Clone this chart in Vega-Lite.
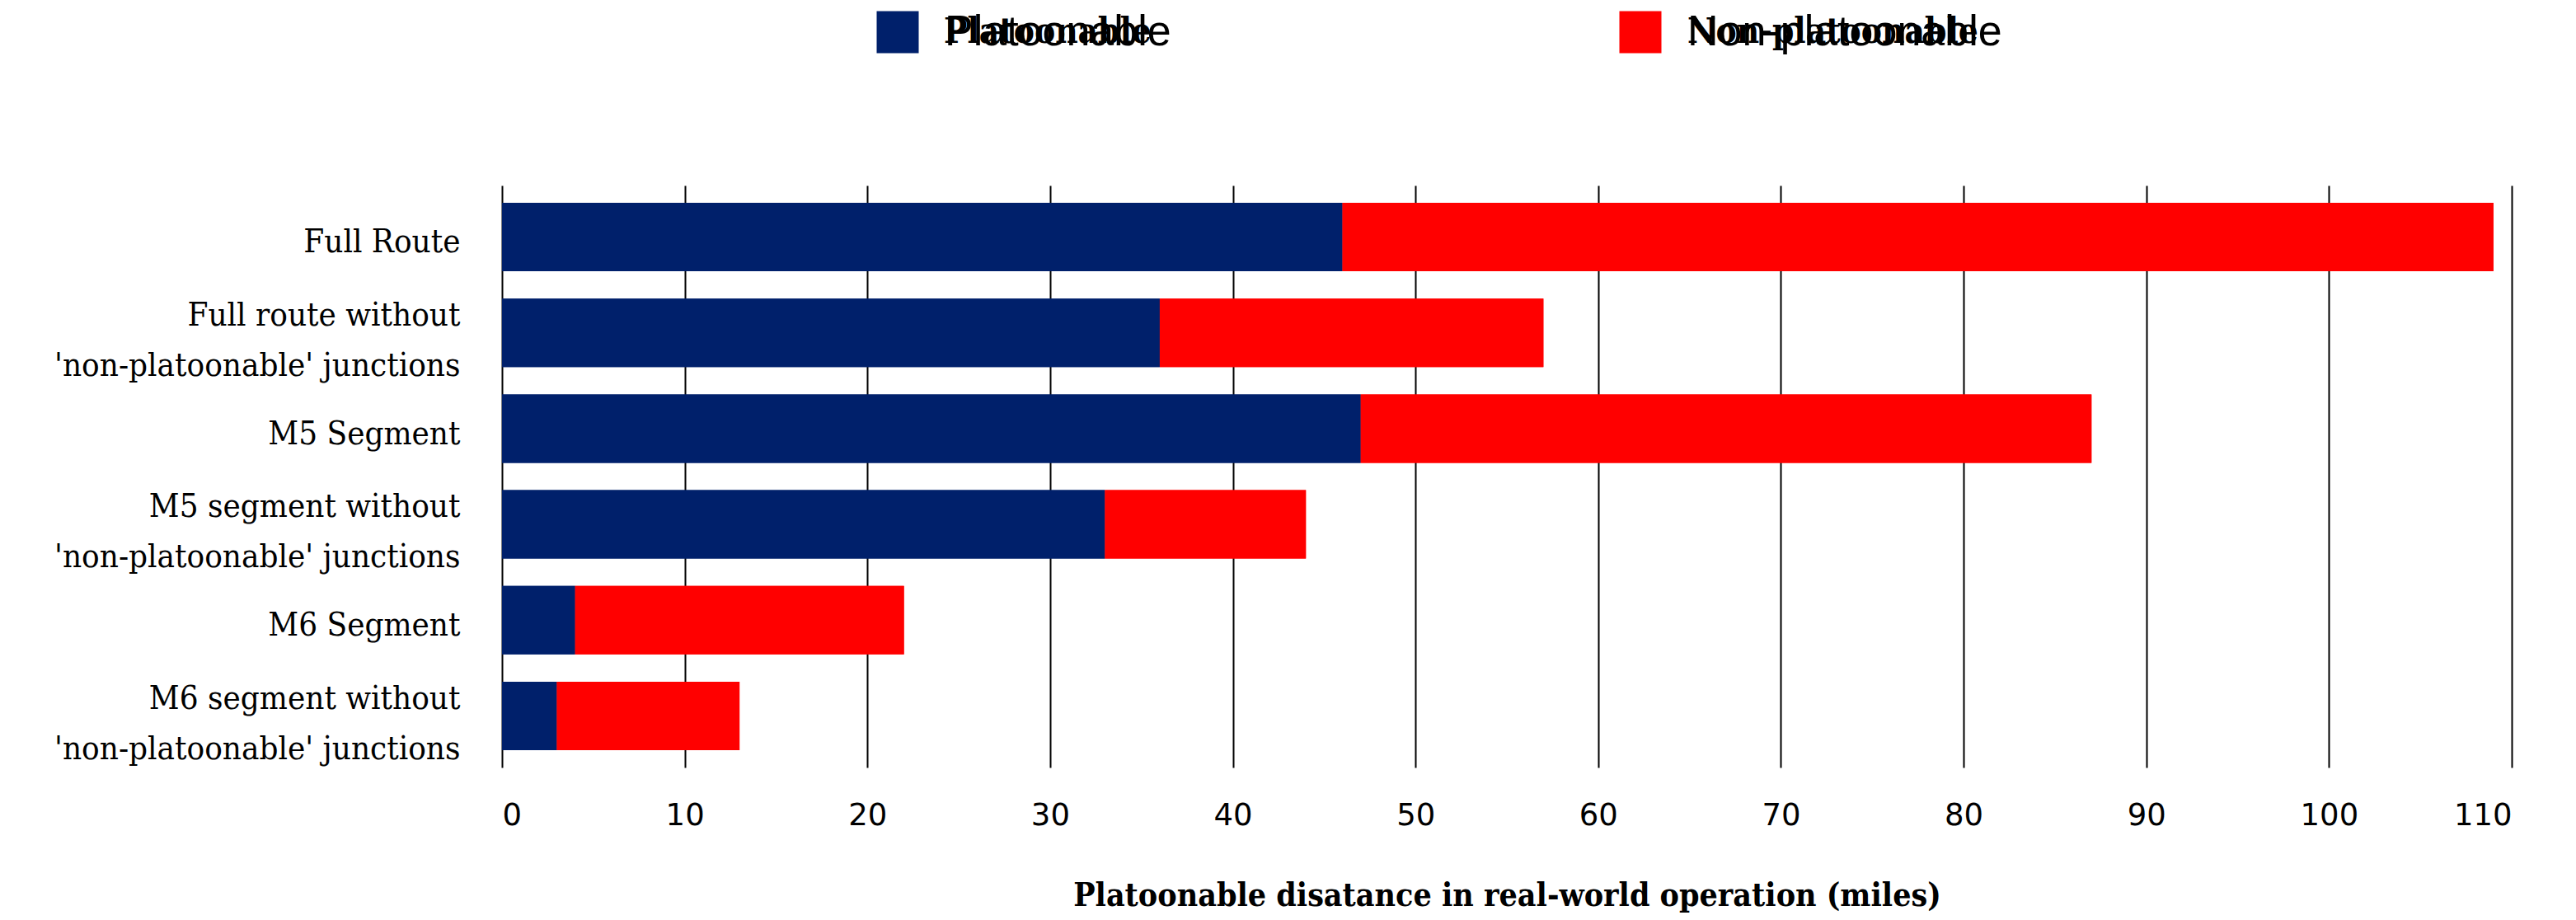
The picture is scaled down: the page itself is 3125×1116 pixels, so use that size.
{
  "$schema": "https://vega.github.io/schema/vega-lite/v6.json",
  "autosize": {"type": "none"},
  "padding": {"left": 609, "top": 225, "right": 78, "bottom": 185},
  "width": 2438,
  "height": 706,
  "background": "white",
  "config": {"view": {"stroke": null}},
  "data": {"values": [
    {"route": "Full Route", "type": "Platoonable", "miles": 46},
    {"route": "Full Route", "type": "Non-platoonable", "miles": 63},
    {"route": "Full route without\n'non-platoonable' junctions", "type": "Platoonable", "miles": 36},
    {"route": "Full route without\n'non-platoonable' junctions", "type": "Non-platoonable", "miles": 21},
    {"route": "M5 Segment", "type": "Platoonable", "miles": 47},
    {"route": "M5 Segment", "type": "Non-platoonable", "miles": 40},
    {"route": "M5 segment without\n'non-platoonable' junctions", "type": "Platoonable", "miles": 33},
    {"route": "M5 segment without\n'non-platoonable' junctions", "type": "Non-platoonable", "miles": 11},
    {"route": "M6 Segment", "type": "Platoonable", "miles": 4},
    {"route": "M6 Segment", "type": "Non-platoonable", "miles": 18},
    {"route": "M6 segment without\n'non-platoonable' junctions", "type": "Platoonable", "miles": 3},
    {"route": "M6 segment without\n'non-platoonable' junctions", "type": "Non-platoonable", "miles": 10}
  ]},
  "encoding": {
    "y": {
      "field": "route", "type": "nominal", "sort": null,
      "scale": {"paddingInner": 0.286, "paddingOuter": 0.18},
      "axis": {
        "title": null, "domain": false, "ticks": false, "grid": false,
        "labelExpr": "split(datum.label, '\\n')",
        "labelFont": "DejaVu Serif Condensed", "labelFontSize": 40, "labelColor": "black",
        "labelLineHeight": 61, "labelPadding": 51, "labelLimit": 800,
        "labelOffset": {"condition": {"test": "indexof(datum.value, '\\n') >= 0", "value": -21}, "value": 7}
      }
    },
    "x": {
      "field": "miles", "type": "quantitative", "stack": "zero",
      "scale": {"domain": [0, 110], "nice": false},
      "axis": {
        "values": [0, 10, 20, 30, 40, 50, 60, 70, 80, 90, 100, 110],
        "domain": false, "ticks": false,
        "grid": true, "gridColor": "black", "gridOpacity": 1, "gridWidth": 2,
        "labelFont": "DejaVu Sans", "labelFontSize": 37, "labelColor": "black", "labelPadding": 40,
        "title": "Platoonable disatance in real-world operation (miles)",
        "titleFont": "DejaVu Serif Condensed", "titleFontWeight": "bold", "titleFontSize": 39,
        "titleColor": "black", "titlePadding": 60
      }
    },
    "order": {"field": "type", "sort": "descending"}
  },
  "layer": [
    {
      "mark": {"type": "bar"},
      "encoding": {
        "color": {
          "field": "type", "type": "nominal",
          "sort": ["Platoonable", "Non-platoonable"],
          "scale": {"domain": ["Platoonable", "Non-platoonable"], "range": ["#00206B", "#FF0000"]},
          "legend": {
            "title": null, "orient": "none", "legendX": 454, "legendY": -212,
            "direction": "horizontal", "columns": 2, "padding": 0,
            "symbolType": "square", "symbolSize": 2601, "symbolStrokeWidth": 0, "symbolOpacity": 1,
            "labelFont": "Liberation Sans", "labelFontSize": 52, "labelColor": "black",
            "labelOffset": 31, "columnPadding": 543, "labelLimit": 1000
          }
        }
      }
    },
    {
      "mark": {"type": "bar"},
      "encoding": {
        "color": {
          "field": "type", "type": "nominal",
          "sort": ["Platoonable", "Non-platoonable"],
          "scale": {"domain": ["Platoonable", "Non-platoonable"], "range": ["#00206B", "#FF0000"]},
          "legend": {
            "title": null, "orient": "none", "legendX": 454, "legendY": -212,
            "direction": "horizontal", "columns": 2, "padding": 0,
            "symbolType": "square", "symbolSize": 2601, "symbolStrokeWidth": 0, "symbolOpacity": 0,
            "labelFont": "DejaVu Serif Condensed", "labelFontWeight": "bold", "labelFontSize": 42, "labelColor": "black",
            "labelOffset": 31, "columnPadding": 568, "labelLimit": 1000
          }
        }
      }
    }
  ],
  "resolve": {"scale": {"color": "independent"}, "legend": {"color": "independent"}}
}
